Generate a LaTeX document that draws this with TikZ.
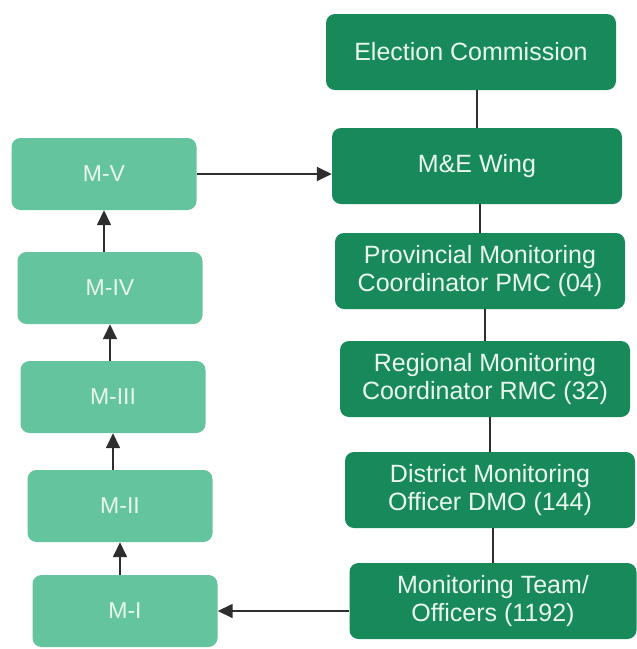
\documentclass[tikz,border=0pt]{standalone}
\usepackage{fontspec}
\setmainfont{Liberation Sans}
\usetikzlibrary{arrows.meta}
\definecolor{darkg}{HTML}{188A5A}
\definecolor{lightg}{HTML}{64C49E}
\definecolor{txtg}{HTML}{EAF7EE}
\definecolor{linec}{HTML}{2E2E2E}
\begin{document}
\begin{tikzpicture}[x=1pt,y=-1pt,
  rbox/.style={draw=none,fill=darkg,rounded corners=9pt,minimum width=290pt,minimum height=76pt,
    text=txtg,align=center,font=\fontsize{25}{28}\selectfont,inner sep=0pt},
  lbox/.style={draw=none,fill=lightg,rounded corners=9pt,minimum width=185pt,minimum height=72pt,
    text=txtg,align=center,font=\fontsize{23}{26}\selectfont,inner sep=0pt},
  link/.style={draw=linec,line width=1.1pt},
  arr/.style={draw=linec,line width=1.6pt,-{Triangle[length=15pt,width=14pt]}}]
\useasboundingbox (0,0) rectangle (637,649);
% right column
\node[rbox] (ec)  at (471,52)  {Election Commission};
\node[rbox] (me)  at (477,166) {M\&E Wing};
\node[rbox] (pmc) at (480,271) {Provincial Monitoring\\Coordinator PMC (04)};
\node[rbox] (rmc) at (485,379) {Regional Monitoring\\Coordinator RMC (32)};
\node[rbox] (dmo) at (490,490) {District Monitoring\\Officer DMO (144)};
\node[rbox,minimum width=287pt] (mt) at (493,601) {Monitoring Team/\\Officers (1192)};
% left column
\node[lbox] (m5) at (104,174) {M-V};
\node[lbox] (m4) at (110,288) {M-IV};
\node[lbox] (m3) at (113,397) {M-III};
\node[lbox] (m2) at (120,506) {M-II};
\node[lbox] (m1) at (125,611) {M-I};
% right links
\draw[link] (ec.south -| me.north) -- (me.north);
\draw[link] (me.south -| pmc.north) -- (pmc.north);
\draw[link] (pmc.south -| rmc.north) -- (rmc.north);
\draw[link] (rmc.south -| dmo.north) -- (dmo.north);
\draw[link] (dmo.south -| mt.north) -- (mt.north);
% left arrows
\draw[arr] (m1.north -| m2.south) -- (m2.south);
\draw[arr] (m2.north -| m3.south) -- (m3.south);
\draw[arr] (m3.north -| m4.south) -- (m4.south);
\draw[arr] (m4.north -| m5.south) -- (m5.south);
\draw[arr] (m5.east) -- (m5.east -| me.west);
\draw[arr] (m1.east -| mt.west) -- (m1.east);
\end{tikzpicture}
\end{document}
